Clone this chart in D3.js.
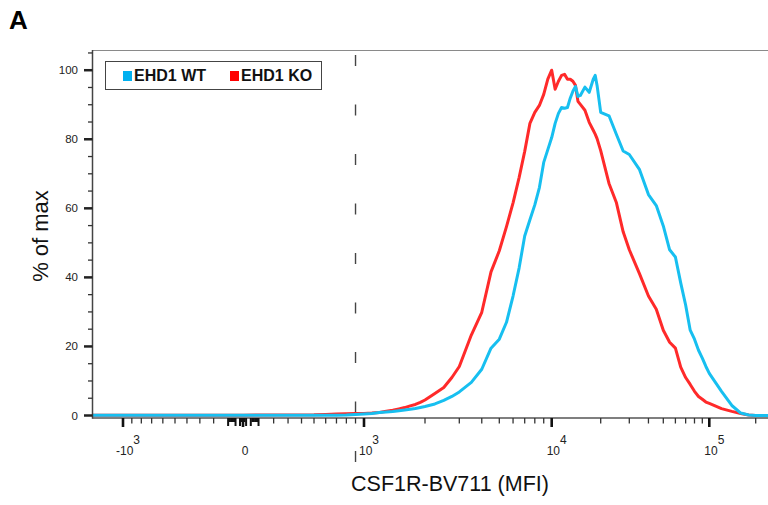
<!DOCTYPE html>
<html><head><meta charset="utf-8">
<script src="https://cdn.jsdelivr.net/npm/d3@7"></script>
<style>
body{margin:0;background:#fff}
svg{display:block}
text{font-family:"Liberation Sans",Arial,sans-serif}
</style>
</head><body>
<svg id="c" width="768" height="505"></svg>
<script>
// ---------------- data ----------------
const seriesNames = ["EHD1 WT", "EHD1 KO"];
const seriesColors = ["#17bff0", "#ff2a2a"];
const legendColors = ["#00b0f0", "#ff0000"];

// CSF1R-BV711 fluorescence (MFI) sample points
const mfi = [-1500,-1000,-500,0,500,600,700,800,900,
  1000,1100,1200,1300,1400,1500,1600,1700,1800,1900,2000,2250,2500,2750,3000,3500,4000,4500,5000,
  5500,6000,6500,7000,7500,8000,8500,9000,9500,10000,10500,11000,11500,12000,12500,13000,13500,
  14000,14500,15000,16000,17000,18000,18500,19000,20000,22500,25000,27500,30000,35000,40000,45000,
  50000,55000,60000,65000,70000,75000,80000,85000,90000,95000,100000,120000,140000,160000,180000,200000,262144];

// % of max, EHD1 WT
const wtPct = [0.1,0.1,0.1,0.1,0.1,0.1,0.1,0.15,0.3,
  0.44,0.58,0.87,1.0,1.16,1.37,1.6,1.8,2.03,2.33,2.62,3.34,4.36,5.52,6.83,9.6,13.4,19.5,22.1,
  27.0,34.6,42.7,52.0,56.7,61.0,66.0,73.3,77.0,80.5,84.6,87.5,89.2,89.0,89.2,91.9,93.9,
  95.3,92.4,92.7,95.1,93.6,97.4,98.5,95.6,87.8,86.8,81.4,76.6,75.6,71.2,64.0,60.8,
  54.9,48.0,45.9,38.4,32.0,24.7,22.1,18.9,16.6,14.2,12.2,7.0,2.9,0.7,0.15,0,0];

// % of max, EHD1 KO
const koPct = [0.1,0.1,0.1,0.1,0.2,0.3,0.4,0.5,0.6,
  0.6,0.7,0.9,1.2,1.5,1.9,2.3,2.8,3.2,3.8,4.5,6.4,8.1,11.0,14.2,23.3,29.9,41.6,47.7,
  54.7,61.6,68.9,76.5,84.6,87.8,89.8,93.0,97.4,100,94.5,96.8,98.5,98.8,97.4,97.4,96.8,
  95.6,91.0,90.1,88.4,84.9,82.6,81.5,80.2,76.7,67.2,61.6,53.2,48.0,41.0,34.6,30.8,
  24.7,21.2,19.5,14.0,11.0,9.0,7.0,5.5,4.7,3.9,3.5,2.0,1.2,0.6,0.15,0,0];

const yTicks = [0,20,40,60,80,100];
const yMinorTicks = [5,10,15,25,30,35,45,50,55,65,70,75,85,90,95,105];
const xMajorTicks = [-1000,0,1000,10000,100000];
const xMajorBase = ["-10","0","10","10","10"];
const xMajorExp = ["3","","3","4","5"];
const xMinorTicks = [-900,-800,-700,-600,-500,-400,-300,-200,200,300,400,500,600,700,800,900,
  2000,3000,4000,5000,6000,7000,8000,9000,20000,30000,40000,50000,60000,70000,80000,90000,200000];
const xNearZeroTicks = [-100,-90,-80,-70,-60,-50,-20,-10,0,10,20,50,60,70,80,90,100];
const gateValue = 900;

// ---------------- layout ----------------
const svg = d3.select("#c");
const pL = 92.5, pR = 768, pT = 50, pB = 418;

// biexponential-like display: piecewise-linear in asinh space through the axis stops
const g = v => Math.asinh(v / 600);
const xStops  = [-1500,-1000,-500,0,500,1000,2000,3000,5000,10000,20000,30000,50000,100000,200000,262144];
const xStopPx = [86,123,175,243,314,364,425,459.3,499.3,551.7,600.7,629.3,663.3,709.3,755.7,773.8];
const xs = d3.scaleLinear().domain(xStops.map(g)).range(xStopPx);
const X = v => xs(g(v));
const y = d3.scaleLinear().domain([0, 106]).range([415.5, 49.5]);

// title
svg.append("text").attr("x", 9).attr("y", 29).attr("font-size", 26).attr("font-weight", "bold").text("A");

// clip
svg.append("defs").append("clipPath").attr("id", "clip")
  .append("rect").attr("x", pL + 0.5).attr("y", pT).attr("width", pR - pL).attr("height", pB - pT + 2);

// frame
svg.append("line").attr("x1", pL).attr("x2", pR).attr("y1", pT + 0.5).attr("y2", pT + 0.5)
  .attr("stroke", "#8a8a8a").attr("stroke-width", 1);

// gate dashed line
svg.append("line").attr("x1", X(gateValue)).attr("x2", X(gateValue)).attr("y1", pT).attr("y2", 462)
  .attr("stroke", "#444").attr("stroke-width", 1.4)
  .attr("stroke-dasharray", "11,38.5").attr("stroke-dashoffset", 44.5);

// curves
const line = d3.line().x((d, i) => X(mfi[i])).y(d => y(d)).curve(d3.curveLinear);
const plot = svg.append("g").attr("clip-path", "url(#clip)");
plot.append("path").datum(koPct).attr("d", line).attr("fill", "none")
  .attr("stroke", seriesColors[1]).attr("stroke-width", 3).attr("stroke-linejoin", "round");
plot.append("path").datum(wtPct).attr("d", line).attr("fill", "none")
  .attr("stroke", seriesColors[0]).attr("stroke-width", 3).attr("stroke-linejoin", "round");

// axes lines
svg.append("line").attr("x1", pL).attr("x2", pR).attr("y1", pB).attr("y2", pB)
  .attr("stroke", "#555").attr("stroke-width", 1.5);
svg.append("line").attr("x1", pL).attr("x2", pL).attr("y1", pT).attr("y2", pB + 0.75)
  .attr("stroke", "#444").attr("stroke-width", 1.5);

// y ticks
const yt = svg.append("g");
yTicks.forEach(v => {
  yt.append("line").attr("x1", 84).attr("x2", pL).attr("y1", y(v)).attr("y2", y(v))
    .attr("stroke", "#222").attr("stroke-width", 2.5);
  yt.append("text").attr("x", 78).attr("y", y(v)).attr("dy", "0.35em").attr("text-anchor", "end")
    .attr("font-size", 11.5).attr("fill", "#222").text(v);
});
yMinorTicks.forEach(v => {
  yt.append("line").attr("x1", 88).attr("x2", pL).attr("y1", y(v)).attr("y2", y(v))
    .attr("stroke", "#333").attr("stroke-width", 1.3);
});

// x ticks
const xt = svg.append("g");
xMajorTicks.forEach((v, i) => {
  xt.append("line").attr("x1", X(v)).attr("x2", X(v)).attr("y1", pB).attr("y2", pB + 9)
    .attr("stroke", "#111").attr("stroke-width", 2.6);
  const t = xt.append("text").attr("x", X(v) + (xMajorExp[i] ? 5 : 2)).attr("y", 455)
    .attr("text-anchor", "middle").attr("font-size", 12).attr("fill", "#222");
  t.append("tspan").text(xMajorBase[i]);
  if (xMajorExp[i]) t.append("tspan").attr("dy", -11).text(xMajorExp[i]);
});
xMinorTicks.forEach(v => {
  xt.append("line").attr("x1", X(v)).attr("x2", X(v)).attr("y1", pB).attr("y2", pB + 5.5)
    .attr("stroke", "#333").attr("stroke-width", 1.3);
});
xNearZeroTicks.forEach(v => {
  const long = [-100,-50,-20,0,20,50,100].includes(v);
  xt.append("line").attr("x1", X(v)).attr("x2", X(v)).attr("y1", pB).attr("y2", pB + (long ? 8 : 4))
    .attr("stroke", "#111").attr("stroke-width", 2);
});

// axis titles
svg.append("text").attr("x", 450).attr("y", 491).attr("text-anchor", "middle")
  .attr("font-size", 21.5).attr("fill", "#111").text("CSF1R-BV711 (MFI)");
svg.append("text").attr("transform", "translate(48,236) rotate(-90)").attr("text-anchor", "middle")
  .attr("font-size", 22).attr("fill", "#111").text("% of max");

// legend
const lg = svg.append("g");
lg.append("rect").attr("x", 105.5).attr("y", 61.5).attr("width", 216).attr("height", 28)
  .attr("fill", "#fff").attr("stroke", "#444").attr("stroke-width", 1);
const legX = [123, 230];
seriesNames.forEach((n, i) => {
  lg.append("rect").attr("x", legX[i]).attr("y", 71).attr("width", 9).attr("height", 10)
    .attr("fill", legendColors[i]);
  lg.append("text").attr("x", legX[i] + 11).attr("y", 80.5).attr("font-size", 16)
    .attr("font-weight", "bold").attr("fill", "#111").text(n);
});
</script>
</body></html>
